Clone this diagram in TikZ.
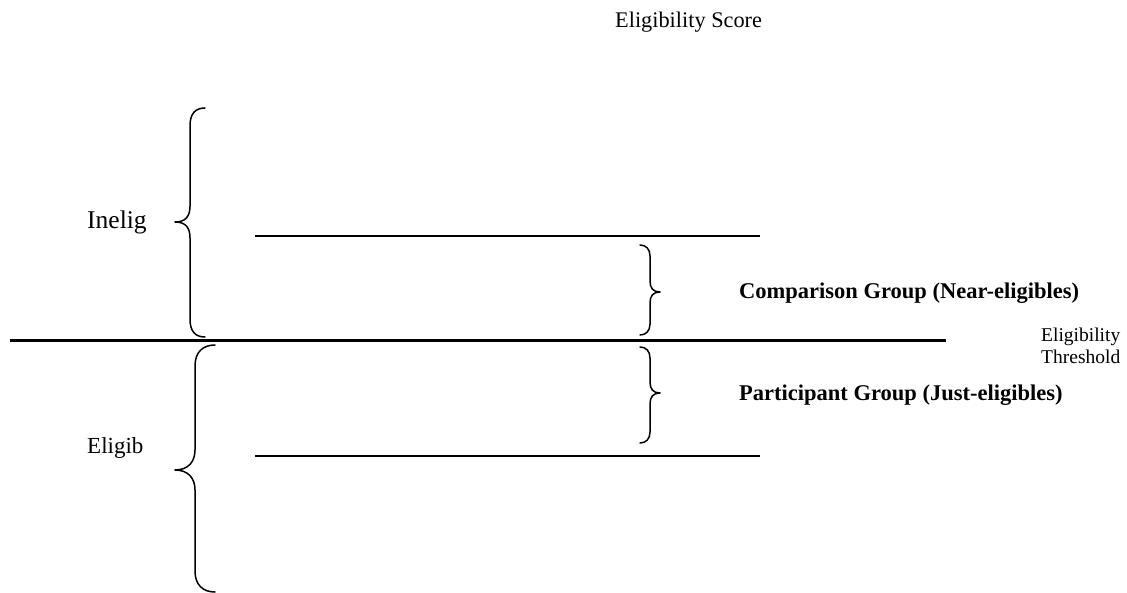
\documentclass[tikz,border=0pt]{standalone}
\usepackage{fontspec}
\setmainfont{Liberation Serif}
\begin{document}
\begin{tikzpicture}[x=1pt,y=-1pt,
  thinline/.style={line width=1.5pt},
  thickline/.style={line width=3pt},
  bracepath/.style={line width=1.5pt, line cap=round, line join=round},
  lbl/.style={inner sep=0pt, anchor=base west},
]
\useasboundingbox (0,0) rectangle (1127,593);
% title
\node[lbl, font=\fontsize{22.3}{26}\selectfont] (title) at (615,28) {Eligibility Score};
% lines
\draw[thinline] (255,236) coordinate (ua) -- (760,236) coordinate (ub);
\draw[thinline] (255,456) coordinate (la) -- (760,456) coordinate (lb);
\draw[thickline] (10,341) coordinate (ta) -- (946,341) coordinate (tb);
% left upper brace
\draw[bracepath] (205,108) .. controls (195,108) and (190,114) .. (190,126)
  -- (190,206) .. controls (190,216) and (186,222) .. (175,222)
  .. controls (186,222) and (190,228) .. (190,238)
  -- (190,319) .. controls (190,331) and (195,337) .. (205,337);
% left lower brace
\draw[bracepath] (215,345) .. controls (203,345) and (195,352) .. (195,366)
  -- (195,450) .. controls (195,462) and (188,470) .. (175,470)
  .. controls (188,470) and (195,478) .. (195,490)
  -- (195,571) .. controls (195,585) and (203,592) .. (215,592);
% right upper brace
\draw[bracepath] (640,245) .. controls (646,245) and (650,249) .. (650,256)
  -- (650,281) .. controls (650,288) and (653,292) .. (660,292)
  .. controls (653,292) and (650,296) .. (650,303)
  -- (650,324) .. controls (650,331) and (646,335) .. (640,335);
% right lower brace
\draw[bracepath] (640,347) .. controls (646,347) and (650,351) .. (650,358)
  -- (650,382) .. controls (650,389) and (653,393) .. (660,393)
  .. controls (653,393) and (650,397) .. (650,404)
  -- (650,432) .. controls (650,439) and (646,443) .. (640,443);
% labels
\node[lbl, font=\fontsize{25.5}{30}\selectfont] (inelig) at (87,229) {Inelig};
\node[lbl, font=\fontsize{23}{27}\selectfont] (eligib) at (87,453) {Eligib};
\node[lbl, font=\bfseries\fontsize{22.5}{26}\selectfont] (comp) at (739,299) {Comparison Group (Near-eligibles)};
\node[lbl, font=\bfseries\fontsize{22.5}{26}\selectfont] (part) at (739,400) {Participant Group (Just-eligibles)};
\node[lbl, font=\fontsize{19.5}{23}\selectfont] (elt1) at (1041,342) {Eligibility};
\node[lbl, font=\fontsize{19.5}{23}\selectfont] (elt2) at (1041,364) {Threshold};
\end{tikzpicture}
\end{document}
